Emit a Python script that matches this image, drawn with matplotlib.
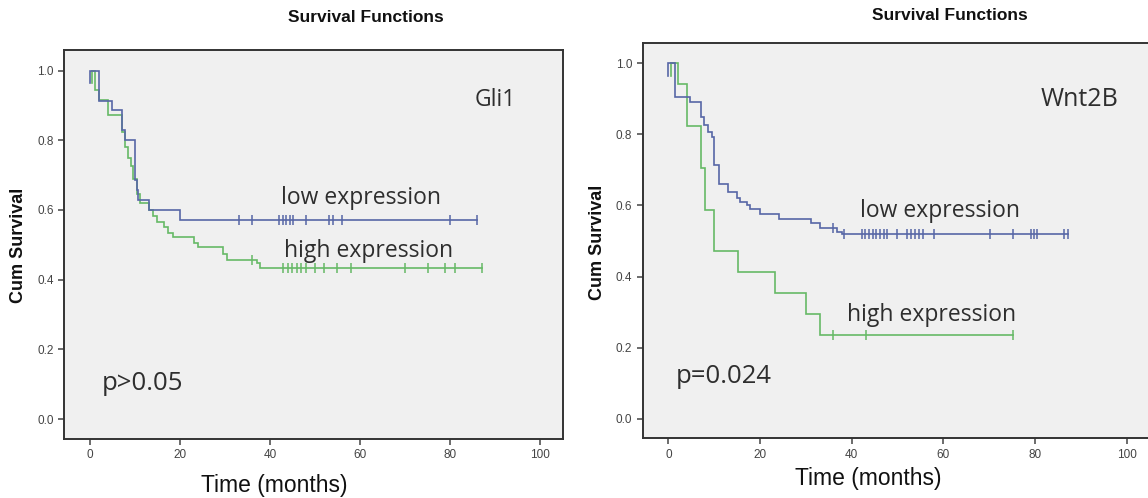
import numpy as np
import matplotlib
matplotlib.use("Agg")
import matplotlib.pyplot as plt

# ---------------- data ----------------
# Gli1 panel
gli_low_t = [0, 0, 2.1, 4.8, 7.0, 7.8, 10.0, 10.4, 10.7, 13.0, 20.0]
gli_low_s = [0.963, 1.0, 0.914, 0.886, 0.829, 0.800, 0.686, 0.657, 0.629, 0.600, 0.571]
gli_low_end = 86.0
gli_low_cens = [33.1, 35.9, 42.0, 42.8, 43.6, 44.4, 45.2, 48.0, 53.1, 54.0, 56.0, 80.0, 86.0]

gli_high_t = [0.4, 0.4, 1.1, 1.9, 4.1, 7.0, 7.8, 8.5, 9.0, 9.6, 10.4, 11.1, 13.0, 14.0,
              14.8, 16.4, 17.4, 18.4, 23.0, 24.1, 29.6, 30.4, 37.0, 37.8]
gli_high_s = [0.963, 1.0, 0.944, 0.915, 0.872, 0.824, 0.78, 0.75, 0.725, 0.69, 0.645, 0.62,
              0.60, 0.583, 0.566, 0.552, 0.535, 0.523, 0.506, 0.493, 0.475, 0.456, 0.449, 0.434]
gli_high_end = 87.0
gli_high_cens = [36.0, 42.9, 43.9, 44.9, 45.9, 46.9, 48.0, 50.0, 52.1, 54.9, 58.0, 70.1,
                 75.1, 78.9, 81.0, 87.0]

# Wnt2B panel
wnt_low_t = [0, 0, 1.5, 4.7, 7.1, 7.8, 8.7, 9.5, 10.0, 11.1, 13.1, 14.9, 15.6, 17.1, 17.8,
             20.0, 24.2, 31.1, 33.1, 36.9, 38.0]
wnt_low_s = [0.963, 1.0, 0.906, 0.892, 0.850, 0.826, 0.808, 0.793, 0.714, 0.660, 0.638, 0.620,
             0.610, 0.600, 0.590, 0.577, 0.563, 0.550, 0.537, 0.525, 0.520]
wnt_low_end = 87.3
wnt_low_cens = [36.0, 38.3, 42.2, 43.0, 43.8, 44.6, 45.4, 46.2, 47.0, 47.8, 50.0, 52.0, 52.9,
                53.8, 54.6, 55.5, 58.0, 70.2, 75.1, 79.1, 79.8, 80.5, 86.3, 87.2]

wnt_high_t = [0.6, 0.6, 2.2, 4.0, 7.1, 7.9, 10.0, 15.1, 23.3, 30.0, 33.2]
wnt_high_s = [0.963, 1.0, 0.941, 0.824, 0.706, 0.588, 0.471, 0.412, 0.353, 0.294, 0.235]
wnt_high_end = 75.3
wnt_high_cens = [36.0, 43.1, 75.3]

x_ticks = [0, 20, 40, 60, 80, 100]
y_ticks = [0.0, 0.2, 0.4, 0.6, 0.8, 1.0]

# ---------------- style ----------------
W, H = 1148, 498
fig = plt.figure(figsize=(W / 100, H / 100), dpi=100)
fig.patch.set_facecolor("white")

BLUE = "#5766a6"
GREEN = "#66b966"
ANN = "#2e2e2e"


def fx(px):
    return px / W


def fy(py):
    return 1 - py / H


def make_axes(left, right, top, bottom):
    return fig.add_axes([fx(left), fy(bottom), (right - left) / W, (bottom - top) / H])


def km(ax, t, s, end, cens, color):
    tt = list(t) + [end]
    ss = list(s) + [s[-1]]
    ax.plot(tt, ss, drawstyle="steps-post", color=color, lw=1.2, solid_joinstyle="miter")
    ta = np.asarray(t)
    sa = np.asarray(s)
    cs = [sa[np.searchsorted(ta, c, side="right") - 1] for c in cens]
    ax.plot(cens, cs, ls="none", marker="|", ms=7, mew=1.1, color=color)


def style(ax, xlim, ylim):
    ax.set_facecolor("#f0f0f0")
    ax.set_xlim(*xlim)
    ax.set_ylim(*ylim)
    ax.set_xticks(x_ticks)
    ax.set_yticks(y_ticks)
    ax.set_xticklabels([str(v) for v in x_ticks])
    ax.set_yticklabels([f"{v:.1f}" for v in y_ticks])
    for sp in ax.spines.values():
        sp.set_color("#333333")
        sp.set_linewidth(1.4)
    ax.tick_params(direction="out", length=4.5, width=1.1, color="#444444",
                   labelsize=8.5, labelcolor="#444444", pad=3)
    for lab in ax.get_xticklabels() + ax.get_yticklabels():
        lab.set_family("Liberation Sans")


# ---- left panel ----
axL = make_axes(64, 562.7, 50, 439)
style(axL, (-5.78, 105.04), (-0.057, 1.059))
km(axL, gli_high_t, gli_high_s, gli_high_end, gli_high_cens, GREEN)
km(axL, gli_low_t, gli_low_s, gli_low_end, gli_low_cens, BLUE)
axL.text(85.4, 0.898, "Gli1", fontsize=16.5, family="Open Sans", color=ANN)
axL.text(42.4, 0.617, "low expression", fontsize=16.5, family="Open Sans", color=ANN)
axL.text(43.0, 0.466, "high expression", fontsize=16.5, family="Open Sans", color=ANN)
axL.text(2.6, 0.083, "p>0.05", fontsize=18.5, family="Open Sans", color=ANN)

# ---- right panel ----
axR = make_axes(642.7, 1150, 42.7, 438.3)
style(axR, (-5.59, 105.1), (-0.055, 1.058))
km(axR, wnt_high_t, wnt_high_s, wnt_high_end, wnt_high_cens, GREEN)
km(axR, wnt_low_t, wnt_low_s, wnt_low_end, wnt_low_cens, BLUE)
axR.text(81.3, 0.880, "Wnt2B", fontsize=18, family="Open Sans", color=ANN)
axR.text(41.8, 0.568, "low expression", fontsize=16.5, family="Open Sans", color=ANN)
axR.text(39.0, 0.276, "high expression", fontsize=16.5, family="Open Sans", color=ANN)
axR.text(1.7, 0.101, "p=0.024", fontsize=18.5, family="Open Sans", color=ANN)

# ---- titles and labels ----
for cx, cy in [(366, 17), (950, 15)]:
    fig.text(fx(cx), fy(cy), "Survival Functions", ha="center", va="center",
             fontsize=12.5, fontweight="bold", family="Liberation Sans", color="#111111")
for cx, cy in [(18.5, 245), (597, 242)]:
    fig.text(fx(cx), fy(cy), "Cum Survival", ha="center", va="center", rotation=90,
             fontsize=13, fontweight="bold", family="Liberation Sans", color="#111111")
for cx, cy in [(274, 485), (868, 478)]:
    fig.text(fx(cx), fy(cy), "Time (months)", ha="center", va="center",
             fontsize=16.5, family="Liberation Sans", color="#111111")

fig.savefig("out.png", dpi=100, facecolor="white")
